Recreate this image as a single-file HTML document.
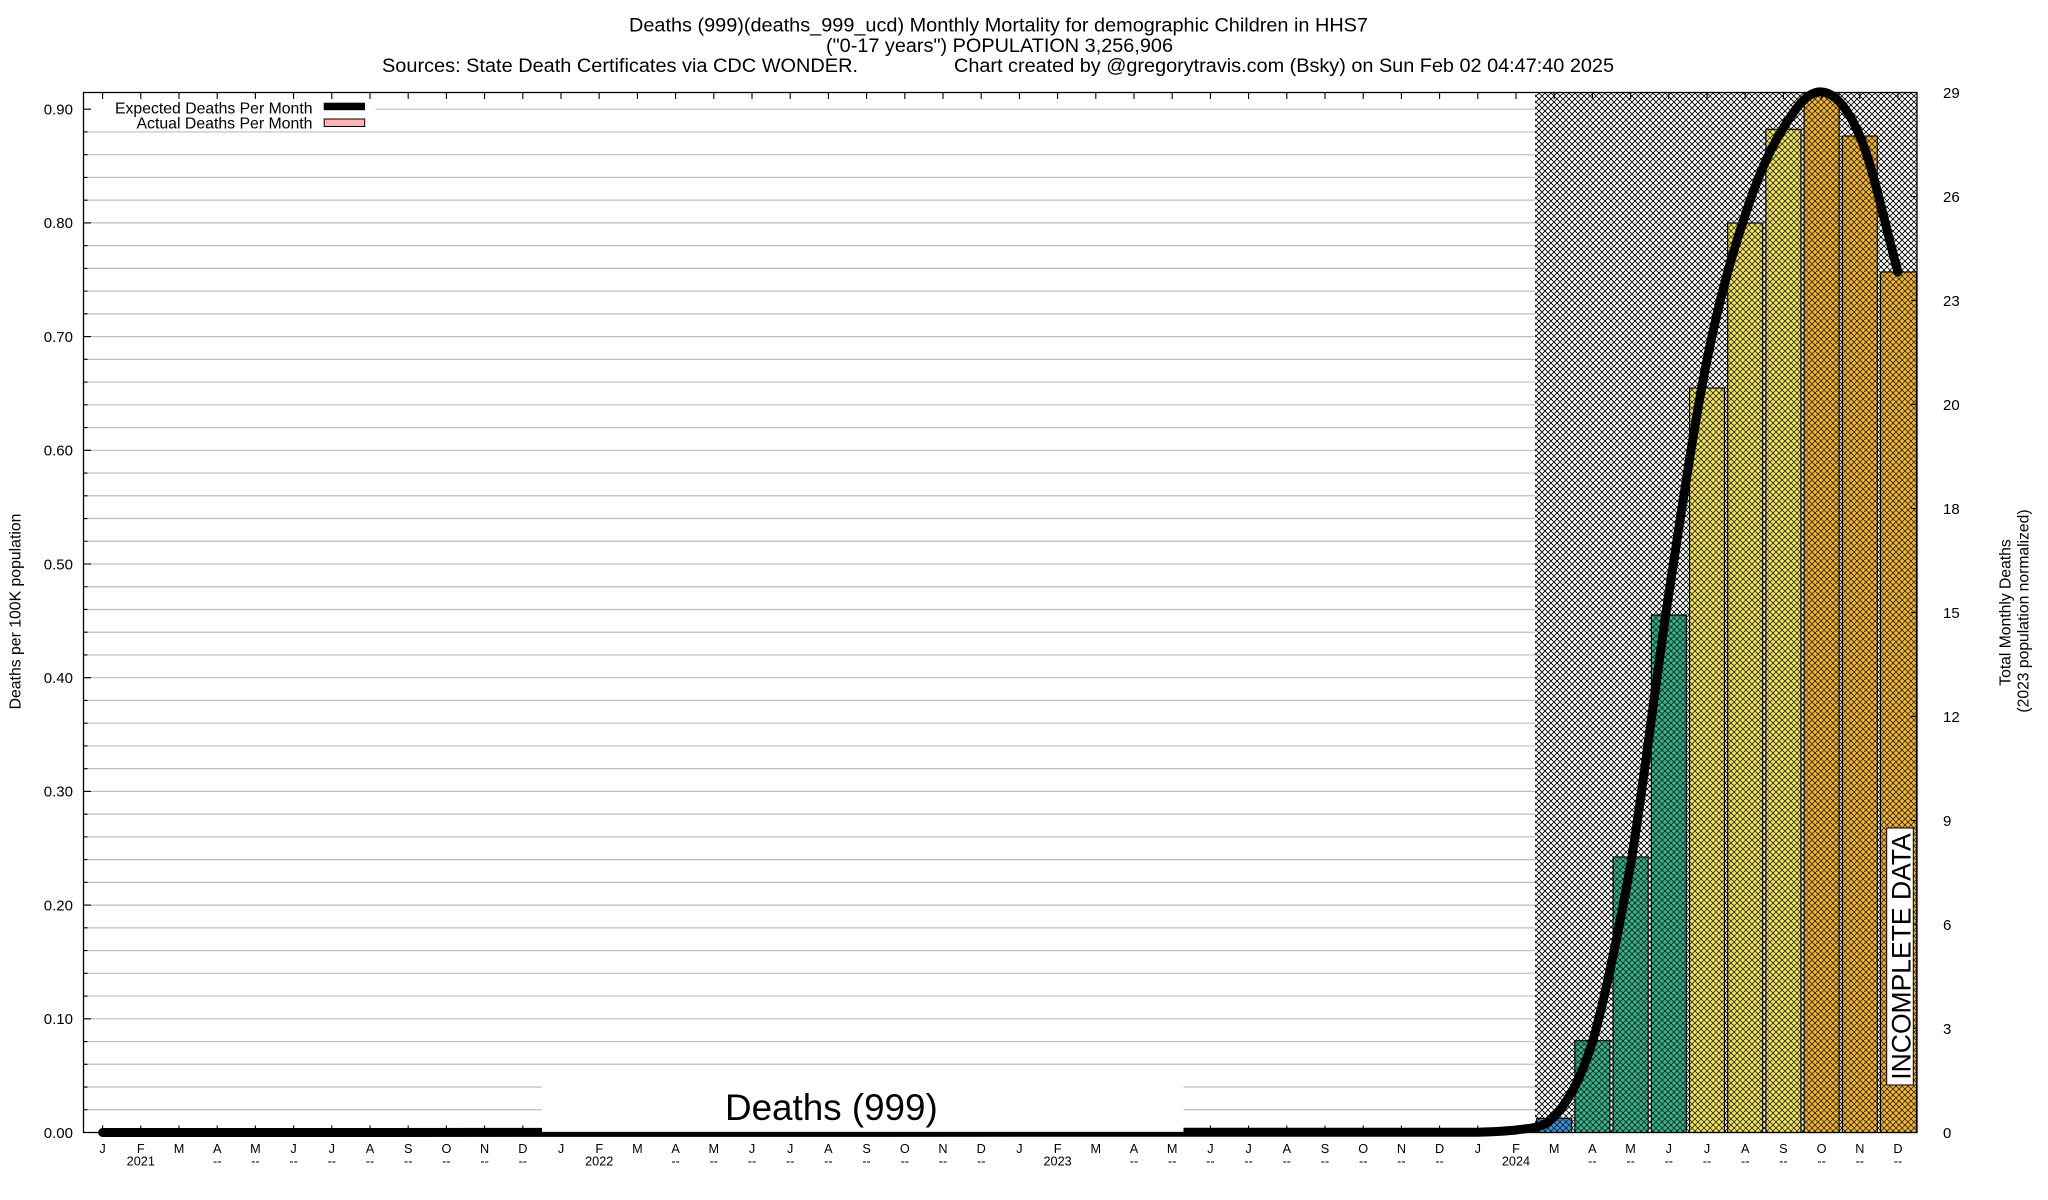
<!DOCTYPE html>
<html><head><meta charset="utf-8"><style>html,body{margin:0;padding:0;background:#fff;overflow:hidden}svg{display:block}</style></head><body>
<svg width="2048" height="1200" viewBox="0 0 2048 1200" xmlns="http://www.w3.org/2000/svg" font-family="'Liberation Sans', Arial, Helvetica, sans-serif">
<defs>
<pattern id="hb" patternUnits="userSpaceOnUse" width="6" height="6">
<rect width="6" height="6" fill="#fff"/>
<path d="M-3,3L3,-3M0,6L6,0M3,9L9,3M-3,3L3,9M0,0L6,6M3,-3L9,3" stroke="#000" stroke-width="0.85"/>
</pattern>
<pattern id="hl" patternUnits="userSpaceOnUse" width="6" height="6">
<path d="M-3,3L3,-3M0,6L6,0M3,9L9,3M-3,3L3,9M0,0L6,6M3,-3L9,3" stroke="#000" stroke-width="0.85" stroke-opacity="0.8"/>
</pattern>
</defs>
<rect width="2048" height="1200" fill="#fff"/>

<!-- titles -->
<g font-size="19.7" fill="#000">
<text x="629" y="31.5" textLength="739" lengthAdjust="spacingAndGlyphs">Deaths (999)(deaths_999_ucd) Monthly Mortality for demographic Children in HHS7</text>
<text x="826" y="52" textLength="347" lengthAdjust="spacingAndGlyphs">("0-17 years") POPULATION 3,256,906</text>
<text x="382" y="72" textLength="476" lengthAdjust="spacingAndGlyphs">Sources: State Death Certificates via CDC WONDER.</text>
<text x="954" y="72" textLength="660" lengthAdjust="spacingAndGlyphs">Chart created by @gregorytravis.com (Bsky) on Sun Feb 02 04:47:40 2025</text>
</g>

<!-- hatched incomplete region -->
<rect x="1535" y="92.5" width="382" height="1040" fill="url(#hb)"/>

<!-- gridlines -->
<path stroke="#bdbdbd" stroke-width="1.2" fill="none" d="M83.5 1109.76H1535M83.5 1087.02H1535M83.5 1064.28H1535M83.5 1041.54H1535M83.5 1018.8H1535M83.5 996.06H1535M83.5 973.32H1535M83.5 950.58H1535M83.5 927.84H1535M83.5 905.1H1535M83.5 882.36H1535M83.5 859.62H1535M83.5 836.88H1535M83.5 814.14H1535M83.5 791.4H1535M83.5 768.66H1535M83.5 745.92H1535M83.5 723.18H1535M83.5 700.44H1535M83.5 677.7H1535M83.5 654.96H1535M83.5 632.22H1535M83.5 609.48H1535M83.5 586.74H1535M83.5 564H1535M83.5 541.26H1535M83.5 518.52H1535M83.5 495.78H1535M83.5 473.04H1535M83.5 450.3H1535M83.5 427.56H1535M83.5 404.82H1535M83.5 382.08H1535M83.5 359.34H1535M83.5 336.6H1535M83.5 313.86H1535M83.5 291.12H1535M83.5 268.38H1535M83.5 245.64H1535M83.5 222.9H1535M83.5 200.16H1535M83.5 177.42H1535M83.5 154.68H1535M83.5 131.94H1535M83.5 109.2H1535"/>

<!-- bars -->
<g stroke="none">
<rect x="1536.7" y="1118.3" width="35" height="14.2" fill="#3f93d4"/>
<rect x="1574.9" y="1040.7" width="35" height="91.8" fill="#3ab58c"/>
<rect x="1613.1" y="857" width="35" height="275.5" fill="#3ab58c"/>
<rect x="1651.3" y="615" width="35" height="517.5" fill="#3ab58c"/>
<rect x="1689.5" y="388" width="35" height="744.5" fill="#f2e466"/>
<rect x="1727.7" y="223" width="35" height="909.5" fill="#f2e466"/>
<rect x="1765.9" y="129.3" width="35" height="1003.2" fill="#f2e466"/>
<rect x="1804.1" y="92.5" width="35" height="1040" fill="#f4b838"/>
<rect x="1842.3" y="136" width="35" height="996.5" fill="#f4b838"/>
<rect x="1880.5" y="272" width="36" height="860.5" fill="#f4b838"/>
</g>
<g fill="url(#hl)" stroke="#000" stroke-width="1.1">
<rect x="1536.7" y="1118.3" width="35" height="14.2"/>
<rect x="1574.9" y="1040.7" width="35" height="91.8"/>
<rect x="1613.1" y="857" width="35" height="275.5"/>
<rect x="1651.3" y="615" width="35" height="517.5"/>
<rect x="1689.5" y="388" width="35" height="744.5"/>
<rect x="1727.7" y="223" width="35" height="909.5"/>
<rect x="1765.9" y="129.3" width="35" height="1003.2"/>
<rect x="1804.1" y="92.5" width="35" height="1040"/>
<rect x="1842.3" y="136" width="35" height="996.5"/>
<rect x="1880.5" y="272" width="36" height="860.5"/>
</g>

<!-- expected line -->
<path fill="none" stroke="#000" stroke-width="9" stroke-linecap="round" stroke-linejoin="round" d="M102.6,1132.5 L1477.8,1132.2 C1490.7,1131.8 1503.3,1131.5 1516,1130 C1528.7,1128 1541.3,1129.5 1554.2,1117 C1566.7,1102.3 1579.3,1084 1592.4,1042 C1604.7,1000 1617,939.7 1630.6,865 C1643,790.3 1656,678.2 1668.8,594 C1681.7,509.8 1694.3,423.2 1707,360 C1719.7,296.8 1732.3,253.7 1745.2,215 C1757.7,176.3 1770.3,148.5 1783.4,128 C1795.7,107.5 1808,90.7 1821.6,92 C1834,92.7 1847,106 1859.8,136 C1873,166 1885.3,226.7 1898,272"/>

<!-- legend -->
<rect x="84.5" y="100" width="291" height="29" fill="#fff"/>
<g font-size="15.7" fill="#000">
<text x="115" y="113.3" textLength="197.5" lengthAdjust="spacingAndGlyphs">Expected Deaths Per Month</text>
<text x="136.5" y="128.3" textLength="176" lengthAdjust="spacingAndGlyphs">Actual Deaths Per Month</text>
</g>
<rect x="323.7" y="102.7" width="41.3" height="7.5" fill="#000"/>
<rect x="324.2" y="119" width="40.5" height="7.5" fill="#ffb3b3" stroke="#000" stroke-width="1"/>

<!-- ticks -->
<path stroke="#000" stroke-width="1.1" fill="none" d="M83.5 1109.76h4M83.5 1087.02h4M83.5 1064.28h4M83.5 1041.54h4M83.5 1018.8h7.5M83.5 996.06h4M83.5 973.32h4M83.5 950.58h4M83.5 927.84h4M83.5 905.1h7.5M83.5 882.36h4M83.5 859.62h4M83.5 836.88h4M83.5 814.14h4M83.5 791.4h7.5M83.5 768.66h4M83.5 745.92h4M83.5 723.18h4M83.5 700.44h4M83.5 677.7h7.5M83.5 654.96h4M83.5 632.22h4M83.5 609.48h4M83.5 586.74h4M83.5 564h7.5M83.5 541.26h4M83.5 518.52h4M83.5 495.78h4M83.5 473.04h4M83.5 450.3h7.5M83.5 427.56h4M83.5 404.82h4M83.5 382.08h4M83.5 359.34h4M83.5 336.6h7.5M83.5 313.86h4M83.5 291.12h4M83.5 268.38h4M83.5 245.64h4M83.5 222.9h7.5M83.5 200.16h4M83.5 177.42h4M83.5 154.68h4M83.5 131.94h4M83.5 109.2h7.5
M1917 1028.5h-6M1917 924.5h-6M1917 820.5h-6M1917 716.5h-6M1917 612.5h-6M1917 508.5h-6M1917 404.5h-6M1917 300.5h-6M1917 196.5h-6
M102.6 92.5v6.5M140.8 92.5v6.5M179 92.5v6.5M217.2 92.5v6.5M255.4 92.5v6.5M293.6 92.5v6.5M331.8 92.5v6.5M370 92.5v6.5M408.2 92.5v6.5M446.4 92.5v6.5M484.6 92.5v6.5M522.8 92.5v6.5M561 92.5v6.5M599.2 92.5v6.5M637.4 92.5v6.5M675.6 92.5v6.5M713.8 92.5v6.5M752 92.5v6.5M790.2 92.5v6.5M828.4 92.5v6.5M866.6 92.5v6.5M904.8 92.5v6.5M943 92.5v6.5M981.2 92.5v6.5M1019.4 92.5v6.5M1057.6 92.5v6.5M1095.8 92.5v6.5M1134 92.5v6.5M1172.2 92.5v6.5M1210.4 92.5v6.5M1248.6 92.5v6.5M1286.8 92.5v6.5M1325 92.5v6.5M1363.2 92.5v6.5M1401.4 92.5v6.5M1439.6 92.5v6.5M1477.8 92.5v6.5M1516 92.5v6.5M1554.2 92.5v6.5M1592.4 92.5v6.5M1630.6 92.5v6.5M1668.8 92.5v6.5M1707 92.5v6.5M1745.2 92.5v6.5M1783.4 92.5v6.5M1821.6 92.5v6.5M1859.8 92.5v6.5M1898 92.5v6.5
M102.6 1132.5v-7M140.8 1132.5v-7M179 1132.5v-7M217.2 1132.5v-7M255.4 1132.5v-7M293.6 1132.5v-7M331.8 1132.5v-7M370 1132.5v-7M408.2 1132.5v-7M446.4 1132.5v-7M484.6 1132.5v-7M522.8 1132.5v-7M561 1132.5v-7M599.2 1132.5v-7M637.4 1132.5v-7M675.6 1132.5v-7M713.8 1132.5v-7M752 1132.5v-7M790.2 1132.5v-7M828.4 1132.5v-7M866.6 1132.5v-7M904.8 1132.5v-7M943 1132.5v-7M981.2 1132.5v-7M1019.4 1132.5v-7M1057.6 1132.5v-7M1095.8 1132.5v-7M1134 1132.5v-7M1172.2 1132.5v-7M1210.4 1132.5v-7M1248.6 1132.5v-7M1286.8 1132.5v-7M1325 1132.5v-7M1363.2 1132.5v-7M1401.4 1132.5v-7M1439.6 1132.5v-7M1477.8 1132.5v-7M1516 1132.5v-7"/>

<!-- Deaths (999) label box -->
<rect x="542" y="1076" width="641.5" height="56" fill="#fff"/>
<text x="725" y="1120" font-size="36.8" fill="#000">Deaths (999)</text>

<!-- INCOMPLETE DATA box -->
<rect x="1886.7" y="828" width="26.6" height="257" fill="#fff" stroke="#000" stroke-width="1"/>
<text transform="translate(1910.3,956.5) rotate(-90)" text-anchor="middle" font-size="26.5" fill="#000">INCOMPLETE DATA</text>

<!-- frame -->
<rect x="83.5" y="92.5" width="1833.5" height="1040" fill="none" stroke="#000" stroke-width="1.3"/>

<!-- y tick labels -->
<g font-size="15" text-anchor="end" fill="#000">
<text x="73" y="1137.8">0.00</text>
<text x="73" y="1024.1">0.10</text>
<text x="73" y="910.4">0.20</text>
<text x="73" y="796.7">0.30</text>
<text x="73" y="683">0.40</text>
<text x="73" y="569.3">0.50</text>
<text x="73" y="455.6">0.60</text>
<text x="73" y="341.9">0.70</text>
<text x="73" y="228.2">0.80</text>
<text x="73" y="114.5">0.90</text>
</g>
<g font-size="15" fill="#000">
<text x="1943" y="1137.8">0</text>
<text x="1943" y="1033.8">3</text>
<text x="1943" y="929.8">6</text>
<text x="1943" y="825.8">9</text>
<text x="1943" y="721.8">12</text>
<text x="1943" y="617.8">15</text>
<text x="1943" y="513.8">18</text>
<text x="1943" y="409.8">20</text>
<text x="1943" y="305.8">23</text>
<text x="1943" y="201.8">26</text>
<text x="1943" y="97.8">29</text>
</g>

<!-- axis titles -->
<text transform="translate(20.7,611.5) rotate(-90)" text-anchor="middle" font-size="15.8" fill="#000">Deaths per 100K population</text>
<text transform="translate(2010.7,612.5) rotate(-90)" text-anchor="middle" font-size="15.7" fill="#000">Total Monthly Deaths</text>
<text transform="translate(2028.3,611) rotate(-90)" text-anchor="middle" font-size="15.7" fill="#000">(2023 population normalized)</text>

<!-- month labels -->
<g font-size="12.7" text-anchor="middle" fill="#000">
<text x="102.6" y="1153">J</text><text x="140.8" y="1153">F</text><text x="179" y="1153">M</text><text x="217.2" y="1153">A</text><text x="255.4" y="1153">M</text><text x="293.6" y="1153">J</text><text x="331.8" y="1153">J</text><text x="370" y="1153">A</text><text x="408.2" y="1153">S</text><text x="446.4" y="1153">O</text><text x="484.6" y="1153">N</text><text x="522.8" y="1153">D</text>
<text x="561" y="1153">J</text><text x="599.2" y="1153">F</text><text x="637.4" y="1153">M</text><text x="675.6" y="1153">A</text><text x="713.8" y="1153">M</text><text x="752" y="1153">J</text><text x="790.2" y="1153">J</text><text x="828.4" y="1153">A</text><text x="866.6" y="1153">S</text><text x="904.8" y="1153">O</text><text x="943" y="1153">N</text><text x="981.2" y="1153">D</text>
<text x="1019.4" y="1153">J</text><text x="1057.6" y="1153">F</text><text x="1095.8" y="1153">M</text><text x="1134" y="1153">A</text><text x="1172.2" y="1153">M</text><text x="1210.4" y="1153">J</text><text x="1248.6" y="1153">J</text><text x="1286.8" y="1153">A</text><text x="1325" y="1153">S</text><text x="1363.2" y="1153">O</text><text x="1401.4" y="1153">N</text><text x="1439.6" y="1153">D</text>
<text x="1477.8" y="1153">J</text><text x="1516" y="1153">F</text><text x="1554.2" y="1153">M</text><text x="1592.4" y="1153">A</text><text x="1630.6" y="1153">M</text><text x="1668.8" y="1153">J</text><text x="1707" y="1153">J</text><text x="1745.2" y="1153">A</text><text x="1783.4" y="1153">S</text><text x="1821.6" y="1153">O</text><text x="1859.8" y="1153">N</text><text x="1898" y="1153">D</text>
<text x="140.8" y="1165.5">2021</text><text x="599.2" y="1165.5">2022</text><text x="1057.6" y="1165.5">2023</text><text x="1516" y="1165.5">2024</text>
<text x="217.2" y="1165.5">--</text><text x="255.4" y="1165.5">--</text><text x="293.6" y="1165.5">--</text><text x="331.8" y="1165.5">--</text><text x="370" y="1165.5">--</text><text x="408.2" y="1165.5">--</text><text x="446.4" y="1165.5">--</text><text x="484.6" y="1165.5">--</text><text x="522.8" y="1165.5">--</text>
<text x="675.6" y="1165.5">--</text><text x="713.8" y="1165.5">--</text><text x="752" y="1165.5">--</text><text x="790.2" y="1165.5">--</text><text x="828.4" y="1165.5">--</text><text x="866.6" y="1165.5">--</text><text x="904.8" y="1165.5">--</text><text x="943" y="1165.5">--</text><text x="981.2" y="1165.5">--</text>
<text x="1134" y="1165.5">--</text><text x="1172.2" y="1165.5">--</text><text x="1210.4" y="1165.5">--</text><text x="1248.6" y="1165.5">--</text><text x="1286.8" y="1165.5">--</text><text x="1325" y="1165.5">--</text><text x="1363.2" y="1165.5">--</text><text x="1401.4" y="1165.5">--</text><text x="1439.6" y="1165.5">--</text>
<text x="1592.4" y="1165.5">--</text><text x="1630.6" y="1165.5">--</text><text x="1668.8" y="1165.5">--</text><text x="1707" y="1165.5">--</text><text x="1745.2" y="1165.5">--</text><text x="1783.4" y="1165.5">--</text><text x="1821.6" y="1165.5">--</text><text x="1859.8" y="1165.5">--</text><text x="1898" y="1165.5">--</text>
</g>
</svg>
</body></html>
